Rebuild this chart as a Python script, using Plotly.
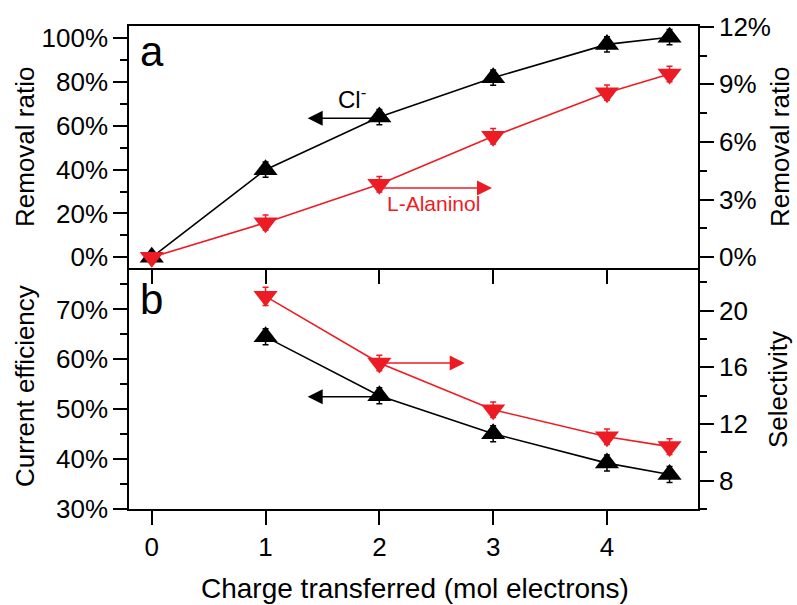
import plotly.graph_objects as go

# Charge transferred (mol electrons)
charge = [0, 1, 2, 3, 4, 4.55]
charge_b = [1, 2, 3, 4, 4.55]

# Panel a: removal ratios
cl_removal = [0, 40, 64, 82, 97.2, 100.5]          # %, left axis
cl_removal_err = [1.0, 3.5, 3.5, 3.5, 3.5, 3.5]
ala_removal = [0, 1.8, 3.8, 6.3, 8.57, 9.54]       # %, right axis
ala_removal_err = [0, 0.4, 0.4, 0.4, 0.4, 0.4]

# Panel b: current efficiency and selectivity
cl_efficiency = [64.5, 52.7, 45.1, 39.2, 36.9]     # %, left axis
cl_efficiency_err = [1.6, 1.6, 1.6, 1.6, 1.6]
selectivity = [21.0, 16.3, 13.0, 11.1, 10.4]       # right axis
selectivity_err = [0.65, 0.55, 0.55, 0.55, 0.55]

BLACK = "#000000"
RED = "#ED1C24"
FONT = "Liberation Sans, Arial, sans-serif"

W, H = 797, 605
L, R, T, B = 129, 99, 26, 96
PW, PH = W - L - R, H - T - B
SPLIT = (509 - 268) / PH


def px_x(px):
    return (px - L) / PW


def px_y(py):
    return (H - B - py) / PH


def series(x, y, err, color, symbol, xa, ya):
    return go.Scatter(
        x=x, y=y, xaxis=xa, yaxis=ya, mode="lines+markers",
        line=dict(color=color, width=1.6),
        marker=dict(symbol=symbol, size=21, color=color),
        error_y=dict(type="data", array=err, visible=True, color=color,
                     thickness=1.5, width=3),
        showlegend=False, hoverinfo="x+y",
    )


fig = go.Figure()
fig.add_trace(series(charge, cl_removal, cl_removal_err, BLACK, "triangle-up", "x", "y"))
fig.add_trace(series(charge, ala_removal, ala_removal_err, RED, "triangle-down", "x", "y2"))
fig.add_trace(series(charge_b, cl_efficiency, cl_efficiency_err, BLACK, "triangle-up", "x2", "y3"))
fig.add_trace(series(charge_b, selectivity, selectivity_err, RED, "triangle-down", "x2", "y4"))

tickfont = dict(family=FONT, size=26, color="black")
common = dict(showline=True, linecolor="black", linewidth=1.5, ticks="outside",
              ticklen=14, tickwidth=1.5, tickcolor="black", tickfont=tickfont,
              showgrid=False, zeroline=False)

fig.update_layout(
    width=W, height=H,
    margin=dict(l=L, r=R, t=T, b=B, pad=0),
    paper_bgcolor="white", plot_bgcolor="white",
    font=dict(family=FONT, color="black"),
    xaxis=dict(domain=[0, 1], anchor="y", range=[-0.2, 4.8], dtick=1, tick0=0,
               showticklabels=False, mirror=True, **common),
    xaxis2=dict(domain=[0, 1], anchor="y3", range=[-0.2, 4.8], dtick=1, tick0=0,
                matches="x", mirror=False, **common),
    yaxis=dict(domain=[SPLIT, 1], anchor="x", range=[-4.9, 105.6], dtick=20,
               tick0=0, ticksuffix="%",
               minor=dict(dtick=10, tick0=0, ticklen=7, tickwidth=1.5,
                          ticks="outside", tickcolor="black"),
               **common),
    yaxis2=dict(domain=[SPLIT, 1], anchor="x", overlaying="y", side="right",
                range=[-0.56, 12.04], dtick=3, tick0=0, ticksuffix="%",
                minor=dict(dtick=1.5, tick0=0, ticklen=7, tickwidth=1.5,
                           ticks="outside", tickcolor="black"),
                **common),
    yaxis3=dict(domain=[0, SPLIT], anchor="x2", range=[30, 78.3], dtick=10,
                tick0=0, ticksuffix="%",
                minor=dict(dtick=5, tick0=0, ticklen=7, tickwidth=1.5,
                           ticks="outside", tickcolor="black"),
                **common),
    yaxis4=dict(domain=[0, SPLIT], anchor="x2", overlaying="y3", side="right",
                range=[6, 23], dtick=4, tick0=0,
                minor=dict(dtick=2, tick0=0, ticklen=7, tickwidth=1.5,
                           ticks="outside", tickcolor="black"),
                **common),
)

annotations = []


def text(label, px, py, size, color=BLACK, angle=0):
    annotations.append(dict(
        text=label, xref="paper", yref="paper", x=px_x(px), y=px_y(py),
        xanchor="center", yanchor="middle", showarrow=False, textangle=angle,
        font=dict(family=FONT, size=size, color=color)))


# axis titles
text("Removal ratio", 25, 147, 26, angle=-90)
text("Current efficiency", 25, 386, 26, angle=-90)
text("Removal ratio", 780, 147, 26, angle=-90)
text("Selectivity", 778, 390, 26, angle=-90)
text("Charge transferred (mol electrons)", 415, 588, 28)

# panel labels
text("a", 152, 52, 42)
text("b", 151, 299, 42)

# series labels
text("Cl<sup>-</sup>", 352, 98, 24)
text("L-Alaninol", 433, 203, 21, color=RED)


def arrow(x_head, y_head, x_tail, y_tail, xref, yref, color):
    annotations.append(dict(
        text="", x=x_head, y=y_head, ax=x_tail, ay=y_tail,
        xref=xref, yref=yref, axref=xref, ayref=yref,
        showarrow=True, arrowhead=2, arrowsize=2, arrowwidth=1.5,
        arrowcolor=color, standoff=0, startstandoff=0))


# arrows pointing to the axis each series belongs to
arrow(1.37, 63.5, 2.0, 63.5, "x", "y", BLACK)
arrow(2.99, 3.6, 2.0, 3.6, "x", "y2", RED)
arrow(1.37, 52.5, 2.0, 52.5, "x2", "y3", BLACK)
arrow(2.75, 16.3, 2.0, 16.3, "x2", "y4", RED)

fig.update_layout(annotations=annotations)

fig.write_html("out.html")
